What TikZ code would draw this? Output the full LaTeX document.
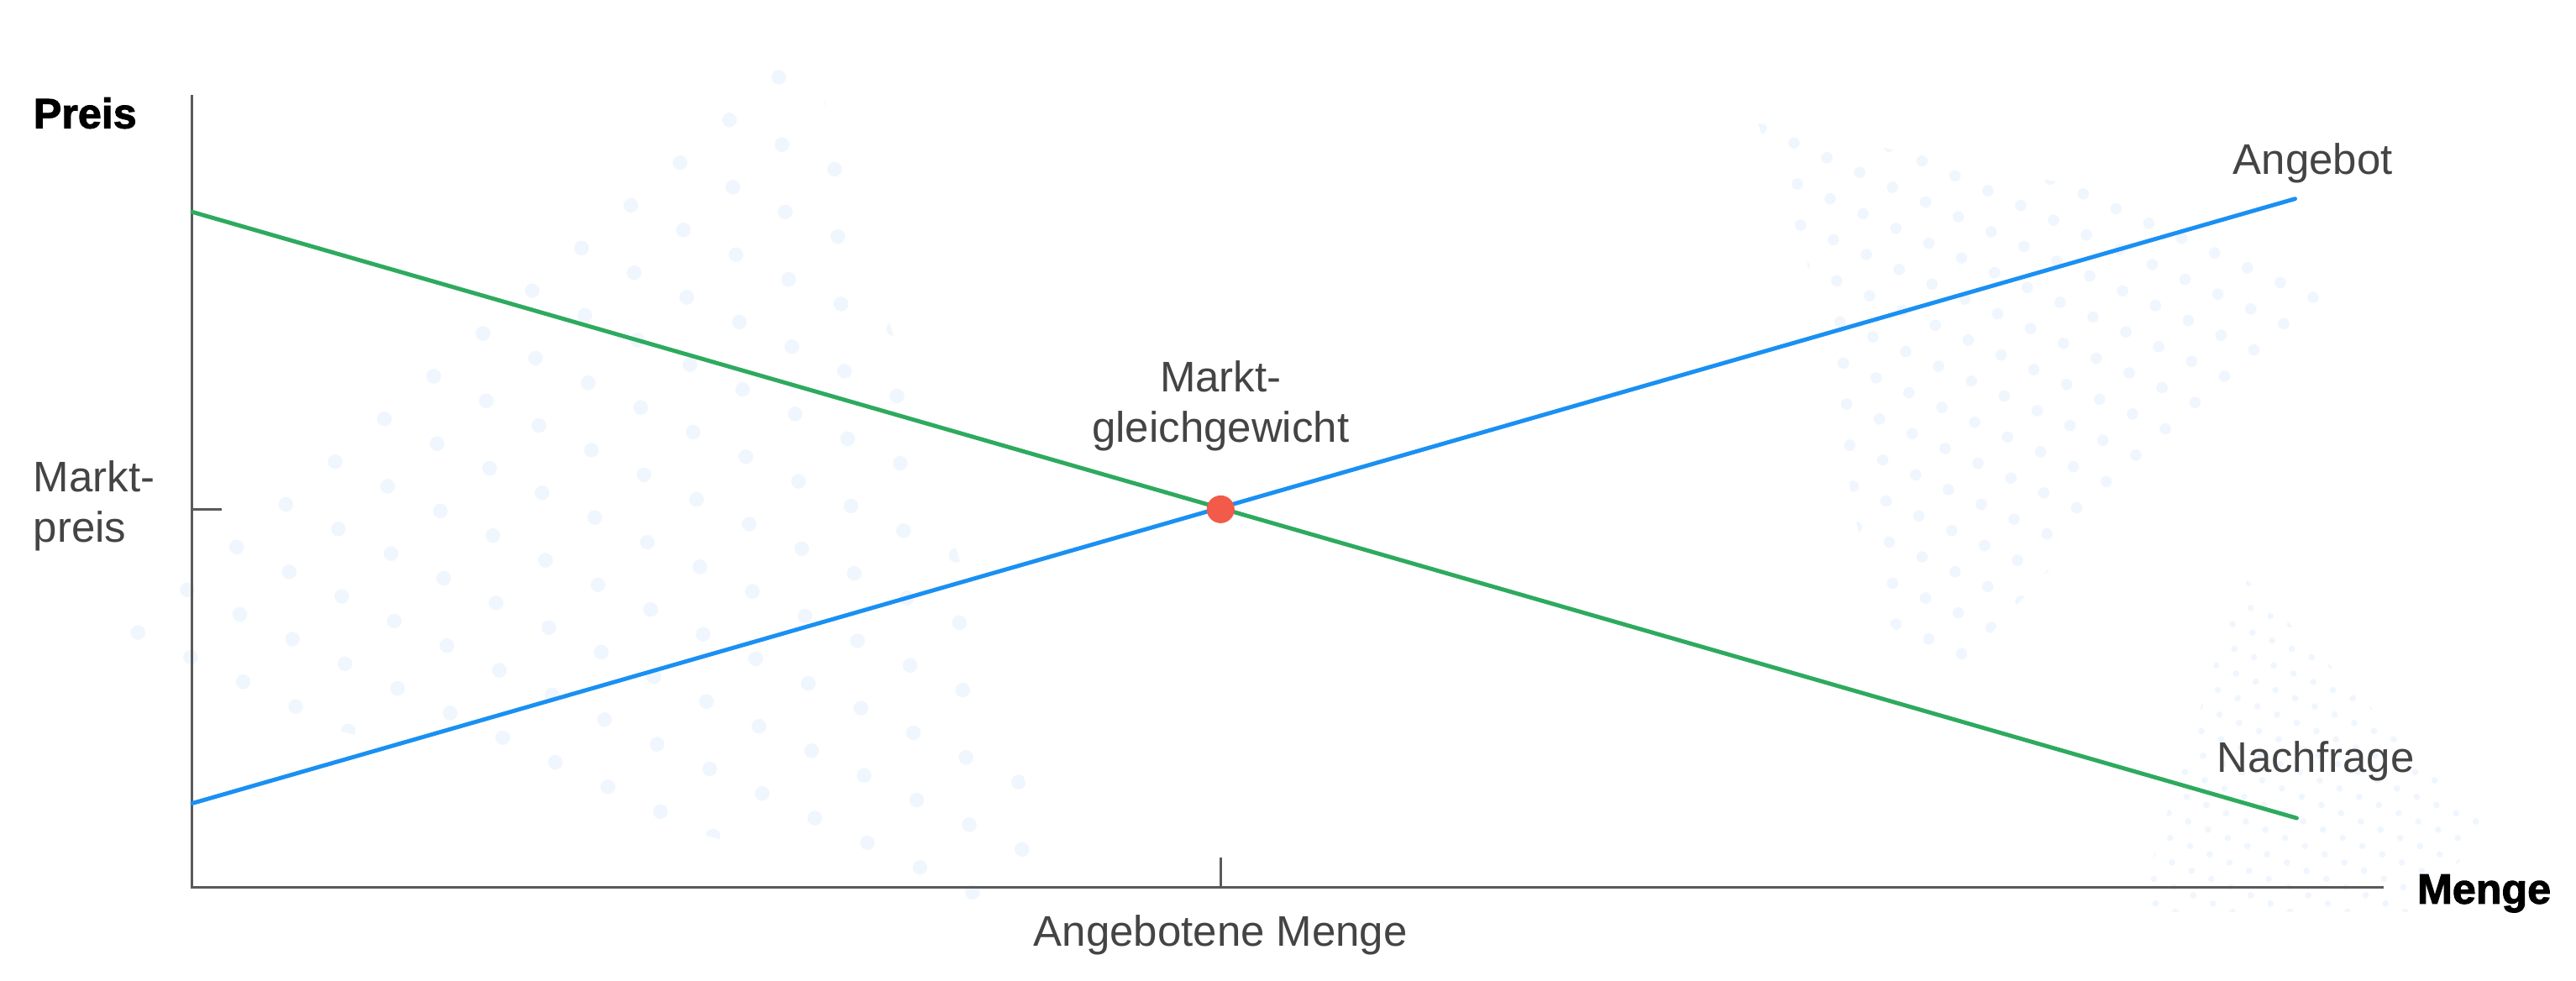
\documentclass[tikz,border=0pt]{standalone}
\usepackage{fontspec}
\setmainfont{Liberation Sans}
\newfontfamily\heavyfont{Liberation Sans}[BoldFeatures={FakeBold=2}]
\definecolor{textgray}{HTML}{444444}
\definecolor{axisgray}{HTML}{5A5A5A}
\definecolor{demandgreen}{HTML}{2EAA5E}
\definecolor{supplyblue}{HTML}{1A90F2}
\definecolor{eqred}{HTML}{F25A4A}
\definecolor{dotc}{HTML}{F0F6FD}
\begin{document}
\begin{tikzpicture}[x=0.01956cm,y=-0.01956cm,
  lbl/.style={text=textgray, font=\fontsize{14.5}{17}\selectfont, inner sep=0pt},
  ttl/.style={text=black, font=\fontsize{14.3}{16}\selectfont\heavyfont\bfseries, inner sep=0pt},
  axisline/.style={draw=axisgray, line width=0.8pt},
  curve/.style={line width=1.4pt, line cap=round}]
\useasboundingbox (0,0) rectangle (1568,597);
% decorative dots
\begin{scope}
\clip (487,12) -- (640,530) -- (610,560) -- (50,400) -- cycle;
\foreach \i in {-15,...,15}{\foreach \j in {-15,...,15}{
  \fill[dotc] ({330+30*\i+32*\j},{300-26*\i+15*\j}) circle[radius=4.5];
}}
\end{scope}
\begin{scope}
\clip (1070,75) -- (1300,120) -- (1420,180) -- (1290,300) -- (1185,415) -- (1140,370) -- (1100,160) -- cycle;
\foreach \i in {-14,...,14}{\foreach \j in {-14,...,14}{
  \fill[dotc] ({1240+18*\i+20*\j},{250-16*\i+9*\j}) circle[radius=3.5];
}}
\end{scope}
\begin{scope}
\clip (1365,350) -- (1510,500) -- (1480,555) -- (1300,555) -- cycle;
\foreach \i in {-14,...,14}{\foreach \j in {-14,...,14}{
  \fill[dotc] ({1400+11*\i+12*\j},{470-10*\i+5*\j}) circle[radius=2];
}}
\end{scope}
% axes
\coordinate (ytop) at (117,58);
\coordinate (orig) at (117,540);
\coordinate (xend) at (1451,540);
\coordinate (ytick0) at (117,310);
\coordinate (ytick1) at (135,310);
\coordinate (xtick0) at (743,522);
\coordinate (xtick1) at (743,540);
\draw[axisline] (ytop) -- (orig) -- (xend);
\draw[axisline] (ytick0) -- (ytick1);
\draw[axisline] (xtick0) -- (xtick1);
% curves
\coordinate (d0) at (117,129);
\coordinate (d1) at (1398,498);
\coordinate (s0) at (117,489);
\coordinate (s1) at (1397,121);
\draw[curve, demandgreen] (d0) -- (d1);
\draw[curve, supplyblue] (s0) -- (s1);
\node[circle, fill=eqred, minimum size=0.33cm, inner sep=0pt] (eq) at (743,310) {};
% labels
\node[ttl, anchor=base west] (preis) at (20,78) {Preis};
\node[ttl, anchor=base west] (menge) at (1471,550) {Menge};
\node[lbl, anchor=base west, align=left] (mp) at (20,330) {Markt-\\preis};
\node[lbl, anchor=base, align=center] (mg) at (743,269) {Markt-\\gleichgewicht};
\node[lbl, anchor=base] (am) at (743,576) {Angebotene Menge};
\node[lbl, anchor=base west] (ang) at (1359,106) {Angebot};
\node[lbl, anchor=base west] (nach) at (1349,470) {Nachfrage};
\end{tikzpicture}
\end{document}
